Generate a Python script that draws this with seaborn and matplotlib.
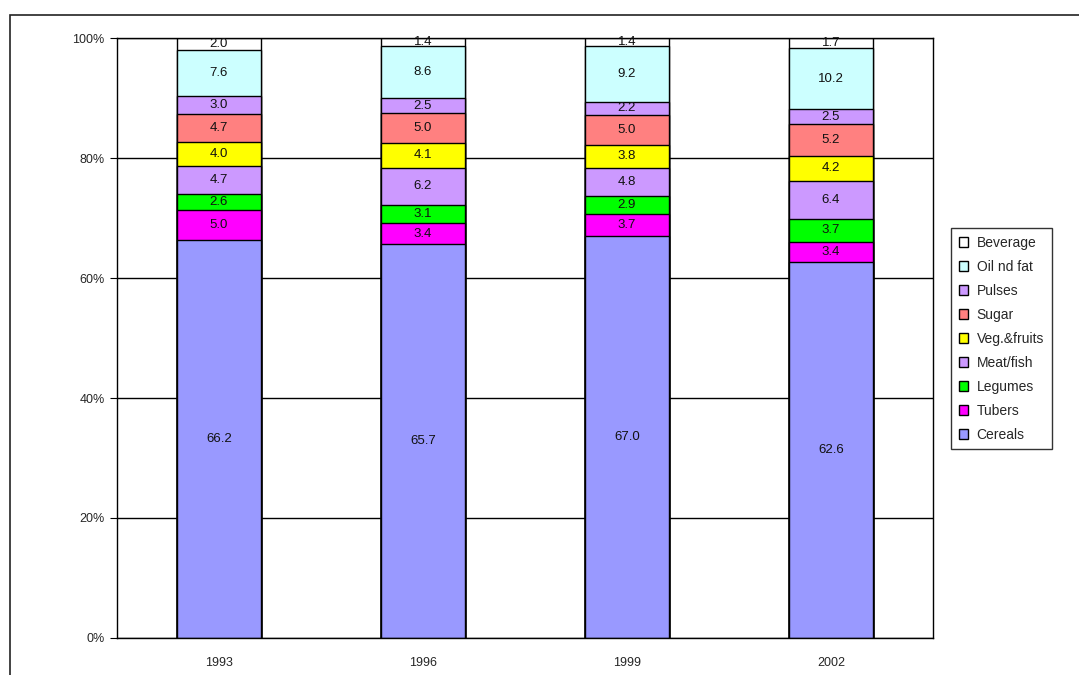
import numpy as np
import pandas as pd
import matplotlib.pyplot as plt
import seaborn as sns
from matplotlib.patches import Rectangle

# data (percent of food expenditure)
years = ['1993', '1996', '1999', '2002']
categories = ['Cereals', 'Tubers', 'Legumes', 'Meat/fish', 'Veg.&fruits',
              'Sugar', 'Pulses', 'Oil nd fat', 'Beverage']
cereals = [66.2, 65.7, 67.0, 62.6]
tubers = [5.0, 3.4, 3.7, 3.4]
legumes = [2.6, 3.1, 2.9, 3.7]
meat_fish = [4.7, 6.2, 4.8, 6.4]
veg_fruits = [4.0, 4.1, 3.8, 4.2]
sugar = [4.7, 5.0, 5.0, 5.2]
pulses = [3.0, 2.5, 2.2, 2.5]
oil_fat = [7.6, 8.6, 9.2, 10.2]
beverage = [2.0, 1.4, 1.4, 1.7]

colors = ['#9999FF', '#FF00FF', '#00FF00', '#CC99FF', '#FFFF00',
          '#FF8080', '#CC99FF', '#CCFFFF', '#FFFFFF']

vals = np.array([cereals, tubers, legumes, meat_fish, veg_fruits,
                 sugar, pulses, oil_fat, beverage])
pct = vals / vals.sum(axis=0) * 100  # 100% stacked
cum = pct.cumsum(axis=0)

sns.set_style('white')
plt.rcParams['font.family'] = ['Liberation Sans', 'DejaVu Sans']

fig = plt.figure(figsize=(10.79, 6.75), dpi=100)
ax = fig.add_axes([117 / 1079, 1 - 638 / 675, (933 - 117) / 1079, 600 / 675])

# outer chart frame
fig.patches.append(Rectangle((10 / 1079, -0.1), 1.2, 1 - 15 / 675 + 0.1,
                             transform=fig.transFigure, fill=False,
                             edgecolor='#222222', lw=1.2, zorder=0))

# draw cumulative bars top-down so each layer covers the one above
for i in range(len(categories) - 1, -1, -1):
    df = pd.DataFrame({'year': years, 'value': cum[i]})
    sns.barplot(data=df, x='year', y='value', color=colors[i], width=0.41,
                edgecolor='black', linewidth=1.0, saturation=1, ax=ax,
                zorder=2, label=categories[i])

# segment labels
for i in range(len(categories)):
    for j in range(len(years)):
        mid = cum[i, j] - pct[i, j] / 2
        ax.text(j, mid, f'{vals[i, j]:.1f}', ha='center', va='center',
                fontsize=9.5, color='#111111', zorder=5)

ax.set_xlim(-0.5, 3.5)
ax.set_ylim(0, 100)
ax.set_yticks([0, 20, 40, 60, 80, 100])
ax.set_yticklabels(['0%', '20%', '40%', '60%', '80%', '100%'], fontsize=9)
ax.set_xticks(range(4))
ax.set_xticklabels(years, fontsize=9)
ax.set_xticks([-0.5, 0.5, 1.5, 2.5, 3.5], minor=True)
ax.tick_params(axis='x', which='major', length=0, pad=14)
ax.tick_params(axis='x', which='minor', length=5, direction='out', color='black')
ax.tick_params(axis='y', length=5, direction='out', color='black', left=True, pad=4)
ax.set_xlabel('')
ax.set_ylabel('')
ax.yaxis.grid(True, color='black', lw=1.0)
ax.set_axisbelow(True)
for s in ax.spines.values():
    s.set_visible(True)
    s.set_color('black')
    s.set_linewidth(1.0)

# legend (outside, right of the plot)
handles, labels = ax.get_legend_handles_labels()
if ax.get_legend() is not None:
    ax.get_legend().remove()
leg = fig.legend(handles, labels, loc='upper left',
                 bbox_to_anchor=(951 / 1079, 1 - 228 / 675),
                 fontsize=10, frameon=True, fancybox=False, edgecolor='black',
                 handlelength=0.7, handleheight=0.7, handletextpad=0.6,
                 labelspacing=0.72, borderpad=0.55, borderaxespad=0)
leg.get_frame().set_linewidth(1.0)

fig.savefig('out.png', dpi=100)
